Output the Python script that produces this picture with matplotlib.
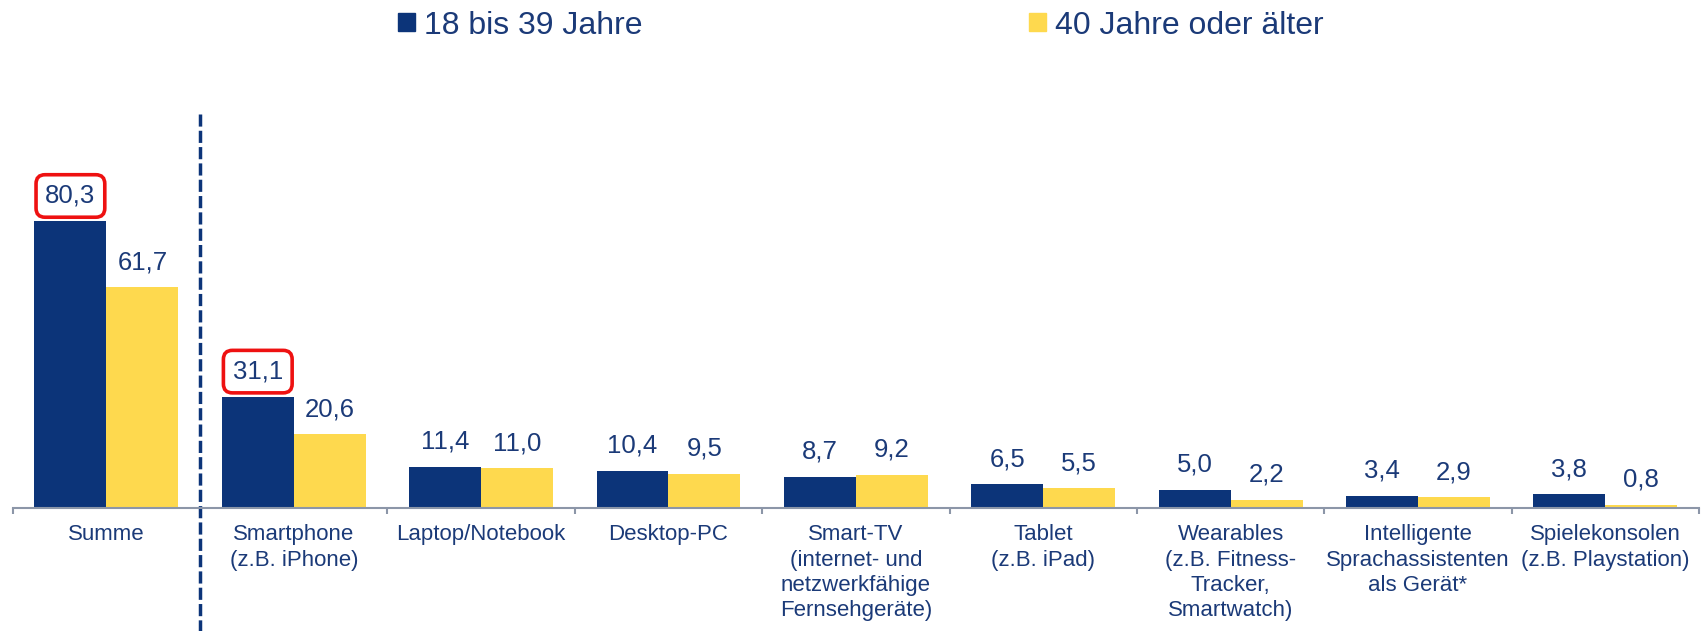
import matplotlib.pyplot as plt
from matplotlib.patches import Patch

plt.rcParams['font.family'] = ['Liberation Sans', 'DejaVu Sans']

# Daten (Prozent)
kategorien = [
    "Summe",
    "Smartphone\n(z.B. iPhone)",
    "Laptop/Notebook",
    "Desktop-PC",
    "Smart-TV\n(internet- und\nnetzwerkfähige\nFernsehgeräte)",
    "Tablet\n(z.B. iPad)",
    "Wearables\n(z.B. Fitness-\nTracker,\nSmartwatch)",
    "Intelligente\nSprachassistenten\nals Gerät*",
    "Spielekonsolen\n(z.B. Playstation)",
]
jung = [80.3, 31.1, 11.4, 10.4, 8.7, 6.5, 5.0, 3.4, 3.8]
alt = [61.7, 20.6, 11.0, 9.5, 9.2, 5.5, 2.2, 2.9, 0.8]
serien = ["18 bis 39 Jahre", "40 Jahre oder älter"]
hervorgehoben = [0, 1]   # Werte der jungen Gruppe mit rotem Rahmen

NAVY = '#0c3479'
GELB = '#fed94e'
TEXT = '#1b3a78'
ACHSE = '#8c96a8'

fig = plt.figure(figsize=(17.05, 6.31), dpi=100)
ax = fig.add_axes([12.7 / 1705, (631 - 507.7) / 631, 1686.3 / 1705, 393.7 / 631])

x = list(range(len(kategorien)))
b = 0.384
ax.bar([i - b / 2 for i in x], jung, width=b, color=NAVY, label=serien[0])
ax.bar([i + b / 2 for i in x], alt, width=b, color=GELB, label=serien[1])

def fmt(v):
    return f"{v:.1f}".replace('.', ',')

for i in x:
    kw = dict(textcoords='offset points', ha='center', va='baseline',
              fontsize=18.5, color=TEXT)
    if i in hervorgehoben:
        kw['bbox'] = dict(boxstyle='round,pad=0.36,rounding_size=0.35',
                          fc='white', ec='#ee1111', lw=2.6)
    ax.annotate(fmt(jung[i]), (i - b / 2, jung[i]), xytext=(0, 13), **kw)
    ax.annotate(fmt(alt[i]), (i + b / 2, alt[i]), xytext=(0, 13),
                textcoords='offset points', ha='center', va='baseline',
                fontsize=18.5, color=TEXT)

ax.set_xlim(-0.5, len(kategorien) - 0.5)
ax.set_ylim(0, 393.7 / 3.57)

for s in ['top', 'right', 'left']:
    ax.spines[s].set_visible(False)
ax.spines['bottom'].set_color(ACHSE)
ax.spines['bottom'].set_linewidth(1.5)
ax.set_yticks([])

ax.set_xticks(x)
ax.set_xticklabels(kategorien, fontsize=16, color=TEXT, linespacing=1.27)
ax.tick_params(axis='x', which='major', length=0, pad=12)
ax.set_xticks([i - 0.5 for i in range(len(kategorien) + 1)], minor=True)
ax.tick_params(axis='x', which='minor', length=4.5, width=1.5, color=ACHSE)

# gestrichelte Trennlinie nach "Summe"
ax.axvline(0.5, ymin=-0.32, ymax=1, color=NAVY, lw=2.5,
           linestyle=(0, (3.5, 1.2)), clip_on=False)

handles = [Patch(color=NAVY), Patch(color=GELB)]
fig.legend(handles, serien, loc='center left', bbox_to_anchor=(398 / 1705, 1 - 25.5 / 631),
           ncol=2, frameon=False, fontsize=23, labelcolor=TEXT,
           handlelength=0.52, handleheight=0.52, handletextpad=0.3,
           columnspacing=12.1, borderpad=0, borderaxespad=0)

fig.savefig('out.png', dpi=100)
